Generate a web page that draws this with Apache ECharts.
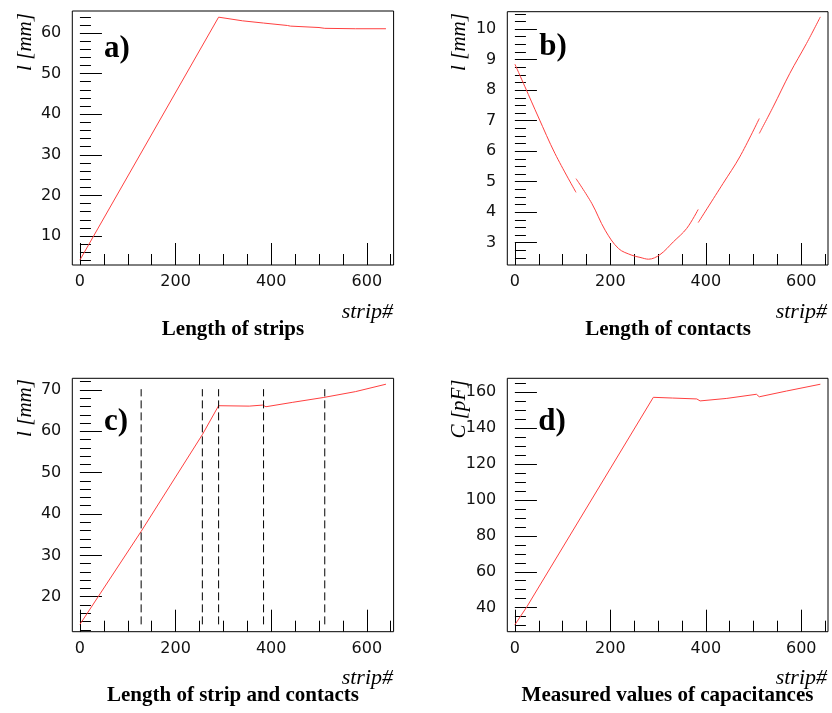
<!DOCTYPE html>
<html>
<head>
<meta charset="utf-8">
<script src="https://cdn.jsdelivr.net/npm/echarts@6/dist/echarts.min.js"></script>
<style>
html,body{margin:0;padding:0;background:#fff;}
#chart{width:832px;height:713px;}
</style>
</head>
<body>
<div id="chart"></div>
<script>
// ---------- data ----------
// a) Length of strips
const aX = [0, 290, 340, 384, 386, 434, 440, 500, 512, 576, 640];
const aY = [4.1, 63.9, 63.0, 62.45, 62.3, 61.85, 61.7, 61.35, 61.15, 61.05, 61.05];
// b) Length of contacts (null = gap between pieces)
const bX = [0, 21, 49, 84, 128, 128, 128, 161, 189, 217, 245, 262, 280, 304, 332, 360, 384, 384, 384, 436, 471, 512, 512, 512, 541, 576, 611, 640];
const bY = [8.85, 8.11, 7.12, 5.92, 4.65, null, 5.10, 4.29, 3.41, 2.81, 2.59, 2.52, 2.46, 2.61, 3.03, 3.47, 4.09, null, 3.66, 4.94, 5.81, 7.07, null, 6.58, 7.45, 8.55, 9.53, 10.40];
// c) Length of strip and contacts
const cX = [0, 128, 256, 290, 354, 382, 389, 444, 510, 514, 576, 640];
const cY = [13.3, 35.8, 59.2, 66.2, 66.1, 66.35, 65.95, 67.0, 68.2, 67.95, 69.6, 71.4];
const cDividers = [128, 256, 290, 384, 512];
const cDividerRange = [13.3, 70.2];
// d) Measured values of capacitances
const dX = [0, 25, 290, 330, 381, 388, 444, 506, 512, 569, 640];
const dY = [30.5, 40.5, 157.2, 156.8, 156.3, 155.2, 156.6, 158.9, 157.5, 160.7, 164.5];

// axis ticks
const xMajor = [0, 200, 400, 600];
const xMinor = [0, 50, 100, 150, 200, 250, 300, 350, 400, 450, 500, 550, 600, 650];
const aYMajor = [10, 20, 30, 40, 50, 60];
const aYMinor = [4, 6, 8, 10, 12, 14, 16, 18, 20, 22, 24, 26, 28, 30, 32, 34, 36, 38, 40, 42, 44, 46, 48, 50, 52, 54, 56, 58, 60, 62, 64];
const bYMajor = [3, 4, 5, 6, 7, 8, 9, 10];
const bYMinor = [2.5, 2.75, 3, 3.25, 3.5, 3.75, 4, 4.25, 4.5, 4.75, 5, 5.25, 5.5, 5.75, 6, 6.25, 6.5, 6.75, 7, 7.25, 7.5, 7.75, 8, 8.25, 8.5, 8.75, 9, 9.25, 9.5, 9.75, 10, 10.25, 10.5];
const cYMajor = [20, 30, 40, 50, 60, 70];
const cYMinor = [12, 14, 16, 18, 20, 22, 24, 26, 28, 30, 32, 34, 36, 38, 40, 42, 44, 46, 48, 50, 52, 54, 56, 58, 60, 62, 64, 66, 68, 70, 72];
const dYMajor = [40, 60, 80, 100, 120, 140, 160];
const dYMinor = [30, 35, 40, 45, 50, 55, 60, 65, 70, 75, 80, 85, 90, 95, 100, 105, 110, 115, 120, 125, 130, 135, 140, 145, 150, 155, 160, 165];

// texts
const panelLetters = ['a)', 'b)', 'c)', 'd)'];
const panelTitles = ['Length of strips', 'Length of contacts', 'Length of strip and contacts', 'Measured values of capacitances'];
const yTitles = ['l [mm]', 'l [mm]', 'l [mm]', 'C [pF]'];
const xTitle = 'strip#';

// ---------- layout ----------
const X_RANGE = [-16, 656];
const panels = [
  {grid: {left: 72.3, top: 11, width: 321.3, height: 254}, y: [2.86, 65.42], yMajor: aYMajor, yMinor: aYMinor, X: aX, Y: aY, smooth: false,
   letter: [117, 49], yT: [25, 42], xT: [393, 312], title: [233, 330]},
  {grid: {left: 507.3, top: 11.7, width: 320.7, height: 253.3}, y: [2.27, 10.57], yMajor: bYMajor, yMinor: bYMinor, X: bX, Y: bY, smooth: 0.35,
   letter: [553, 47], yT: [459, 42], xT: [827, 312], title: [668, 330]},
  {grid: {left: 72.3, top: 378.3, width: 321.3, height: 253.4}, y: [11.53, 72.83], yMajor: cYMajor, yMinor: cYMinor, X: cX, Y: cY, smooth: false,
   letter: [116, 422], yT: [25, 408], xT: [393, 678], title: [233, 696]},
  {grid: {left: 507.3, top: 378.3, width: 320.7, height: 253.4}, y: [26.6, 167.8], yMajor: dYMajor, yMinor: dYMinor, X: dX, Y: dY, smooth: false,
   letter: [552, 422], yT: [459, 409], xT: [827, 678], title: [667.5, 696]}
];

const tickFont = {fontFamily: 'DejaVu Sans', fontSize: 16, color: '#111'};
const grids = [], xAxes = [], yAxes = [], series = [], graphics = [];

panels.forEach((p, i) => {
  grids.push(Object.assign({show: true, borderColor: '#000', borderWidth: 1, backgroundColor: 'transparent'}, p.grid));
  // x major
  xAxes.push({gridIndex: i, type: 'value', min: X_RANGE[0], max: X_RANGE[1], position: 'bottom',
    axisLine: {show: false}, splitLine: {show: false},
    axisTick: {show: true, inside: true, length: 22, customValues: xMajor, lineStyle: {color: '#000', width: 1}},
    axisLabel: Object.assign({show: true, margin: 9, customValues: xMajor}, tickFont)});
  // x minor
  xAxes.push({gridIndex: i, type: 'value', min: X_RANGE[0], max: X_RANGE[1], position: 'bottom',
    axisLine: {show: false}, splitLine: {show: false},
    axisTick: {show: true, inside: true, length: 11, customValues: xMinor, lineStyle: {color: '#000', width: 1}},
    axisLabel: {show: false}});
  // y major
  yAxes.push({gridIndex: i, type: 'value', min: p.y[0], max: p.y[1], position: 'left',
    axisLine: {show: false}, splitLine: {show: false},
    axisTick: {show: true, inside: true, length: 22, customValues: p.yMajor, lineStyle: {color: '#000', width: 1}},
    axisLabel: Object.assign({show: true, margin: 11, customValues: p.yMajor}, tickFont)});
  // y minor
  yAxes.push({gridIndex: i, type: 'value', min: p.y[0], max: p.y[1], position: 'left',
    axisLine: {show: false}, splitLine: {show: false},
    axisTick: {show: true, inside: true, length: 11, customValues: p.yMinor, lineStyle: {color: '#000', width: 1}},
    axisLabel: {show: false}});

  series.push({type: 'line', xAxisIndex: 2 * i, yAxisIndex: 2 * i, showSymbol: false, silent: true,
    connectNulls: false, animation: false, smooth: p.smooth,
    lineStyle: {color: '#ff4040', width: 1},
    data: p.X.map((x, k) => [x, p.Y[k] === null ? '-' : p.Y[k]])});

  graphics.push({type: 'text', x: p.letter[0], y: p.letter[1],
    style: {text: panelLetters[i], font: 'bold 31px "Liberation Serif"', fill: '#000', textAlign: 'center', textVerticalAlign: 'middle'}});
  graphics.push({type: 'text', x: p.yT[0], y: p.yT[1], rotation: Math.PI / 2,
    style: {text: yTitles[i], font: 'italic 21px "Liberation Serif"', fill: '#000', textAlign: 'center', textVerticalAlign: 'middle'}});
  graphics.push({type: 'text', x: p.xT[0], y: p.xT[1],
    style: {text: xTitle, font: 'italic 22px "Liberation Serif"', fill: '#000', textAlign: 'right', textVerticalAlign: 'middle'}});
  graphics.push({type: 'text', x: p.title[0], y: p.title[1],
    style: {text: panelTitles[i], font: 'bold 21px "Liberation Serif"', fill: '#000', textAlign: 'center', textVerticalAlign: 'middle'}});
});

// dashed dividers in panel c
cDividers.forEach(x => {
  series.push({type: 'line', xAxisIndex: 4, yAxisIndex: 4, showSymbol: false, silent: true, animation: false,
    lineStyle: {color: '#000', width: 1, type: [8, 4]},
    data: [[x, cDividerRange[0]], [x, cDividerRange[1]]]});
});

const chart = echarts.init(document.getElementById('chart'), null, {renderer: 'canvas'});
chart.setOption({
  animation: false,
  backgroundColor: '#fff',
  grid: grids,
  xAxis: xAxes,
  yAxis: yAxes,
  series: series,
  graphic: graphics
});
</script>
</body>
</html>
